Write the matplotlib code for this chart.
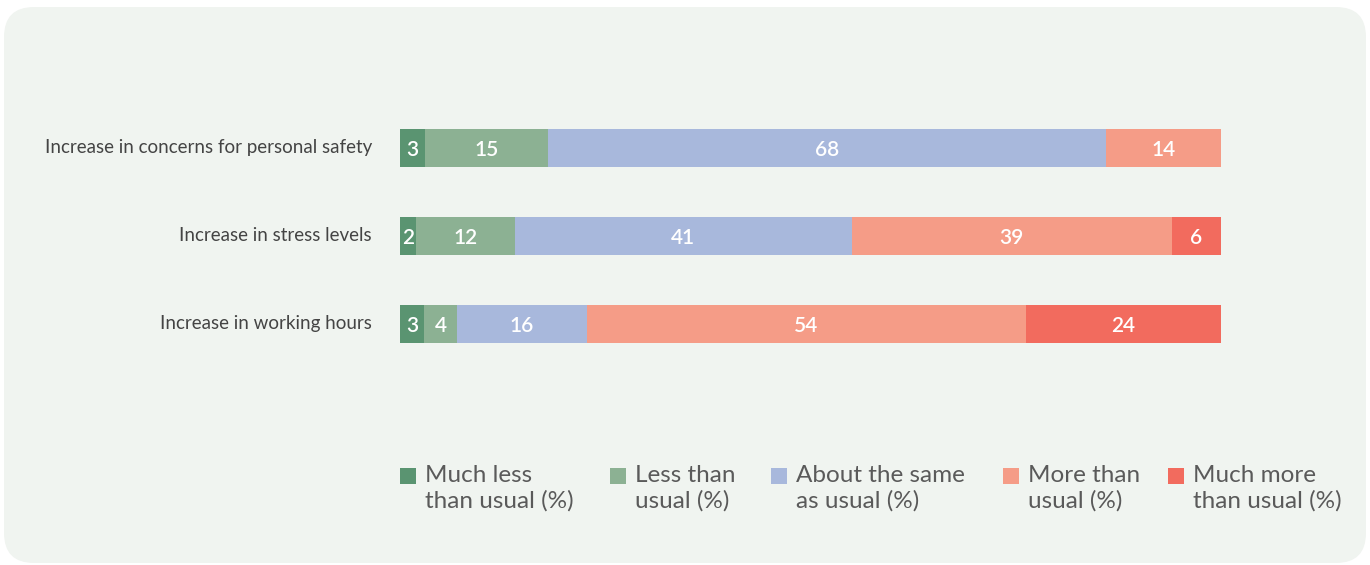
import numpy as np
import matplotlib.pyplot as plt
from matplotlib.patches import FancyBboxPatch, Rectangle

# data (percent)
rows = ["Increase in concerns for personal safety",
        "Increase in stress levels",
        "Increase in working hours"]
much_less = [3, 2, 3]
less = [15, 12, 4]
same = [68, 41, 16]
more = [14, 39, 54]
much_more = [0, 6, 24]

legend_labels = ["Much less\nthan usual (%)", "Less than\nusual (%)",
                 "About the same\nas usual (%)", "More than\nusual (%)",
                 "Much more\nthan usual (%)"]
colors = ["#5a9471", "#8cb193", "#a8b8dc", "#f59c87", "#f26b5e"]

plt.rcParams['font.family'] = ['Lato', 'DejaVu Sans']
W, H = 1370, 565
fig = plt.figure(figsize=(W / 100, H / 100), dpi=100)
fig.patch.set_facecolor("white")

# background panel in pixel coords
bg = fig.add_axes([0, 0, 1, 1])
bg.set_xlim(0, W)
bg.set_ylim(H, 0)
bg.axis("off")
bg.add_patch(FancyBboxPatch((4, 7), 1362, 556,
                            boxstyle="round,pad=0,rounding_size=30",
                            fc="#f0f4f0", ec="none"))

# bars
ax = fig.add_axes([400 / W, (H - 370) / H, 821 / W, 270 / H])
ax.patch.set_alpha(0)
ax.set_xlim(0, 100)
ax.set_ylim(2.523, -0.545)
ax.axis("off")

series = np.array([much_less, less, same, more, much_more], dtype=float)
scaled = series / series.sum(axis=0) * 100
left = np.zeros(len(rows))
y = np.arange(len(rows))
for k in range(len(series)):
    ax.barh(y, scaled[k], left=left, height=0.43, color=colors[k], lw=0)
    for i in range(len(rows)):
        if series[k, i] > 0:
            ax.text(left[i] + scaled[k, i] / 2, y[i] + 0.02, f"{series[k, i]:.0f}",
                    ha="center", va="center", color="white", fontsize=15,
                    fontweight="semibold")
    left += scaled[k]

for i, r in enumerate(rows):
    ax.text(-3.4, y[i] - 0.01, r, ha="right", va="center", color="#444444",
            fontsize=13.5)

# legend
leg_x = [400, 610, 771, 1003, 1168]
for x0, lab, c in zip(leg_x, legend_labels, colors):
    bg.add_patch(Rectangle((x0, 468), 16, 16, fc=c, ec="none"))
    bg.text(x0 + 25, 465, lab, ha="left", va="top", color="#5a5a5a",
            fontsize=17.5, linespacing=1.25)

fig.savefig("out.png", dpi=100)
